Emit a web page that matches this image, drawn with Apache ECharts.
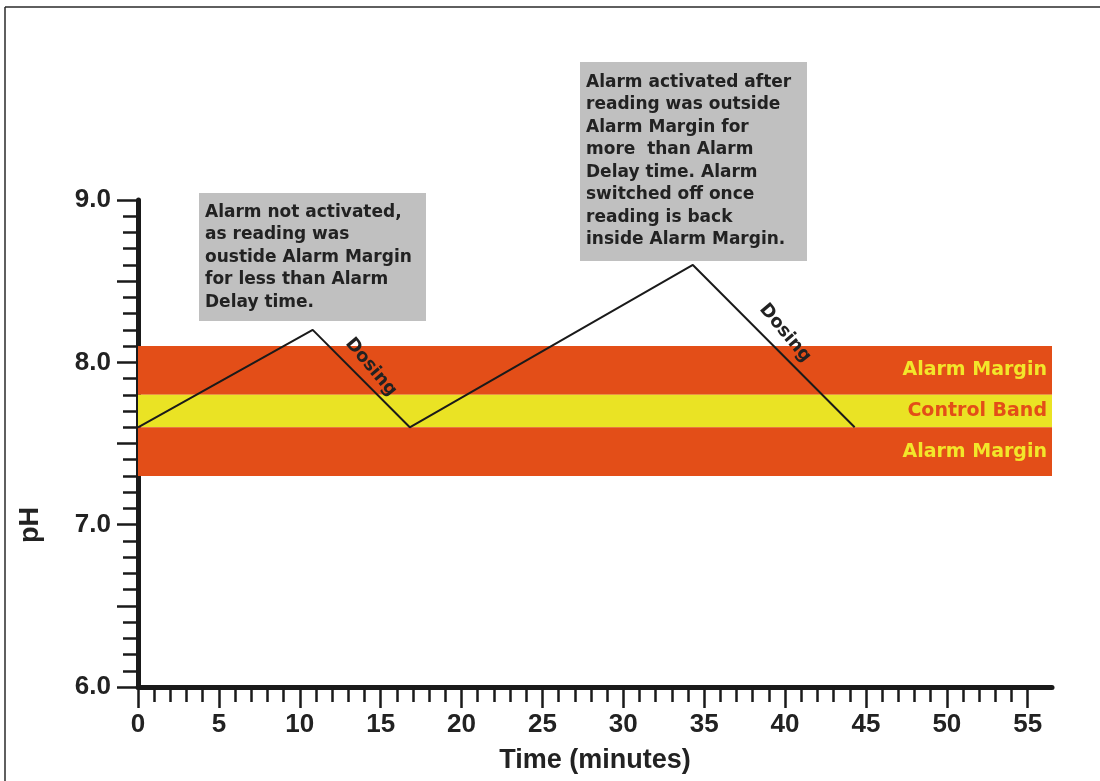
<!DOCTYPE html>
<html>
<head>
<meta charset="utf-8">
<script src="https://cdn.jsdelivr.net/npm/echarts@6/dist/echarts.min.js"></script>
<style>
  html, body { margin: 0; padding: 0; background: #fff; }
  #chart { width: 1100px; height: 781px; }
</style>
</head>
<body>
<div id="chart"></div>
<script>
// pH reading over time
const timeMin = [0, 10.8, 16.8, 34.3, 44.3];
const phReading = [7.6, 8.2, 7.6, 8.6, 7.6];

// bands
const bandNames = ['Alarm Margin', 'Control Band', 'Alarm Margin'];
const bandLow = [7.8, 7.6, 7.3];
const bandHigh = [8.1, 7.8, 7.6];

// ticks
const xMajorTicks = [0, 5, 10, 15, 20, 25, 30, 35, 40, 45, 50, 55];
const xMinorTicks = [0, 1, 2, 3, 4, 5, 6, 7, 8, 9, 10, 11, 12, 13, 14, 15, 16, 17, 18, 19,
  20, 21, 22, 23, 24, 25, 26, 27, 28, 29, 30, 31, 32, 33, 34, 35, 36, 37, 38, 39,
  40, 41, 42, 43, 44, 45, 46, 47, 48, 49, 50, 51, 52, 53, 54, 55];
const yLabelTicks = [6, 7, 8, 9];
const yMajorTicks = [6, 6.5, 7, 7.5, 8, 8.5, 9];
const yMinorTicks = [6.1, 6.2, 6.3, 6.4, 6.6, 6.7, 6.8, 6.9, 7.1, 7.2, 7.3, 7.4,
  7.6, 7.7, 7.8, 7.9, 8.1, 8.2, 8.3, 8.4, 8.6, 8.7, 8.8, 8.9];

// "Dosing" labels placed along the falling segments
const dosingLabels = [
  { name: 'Dosing', x: 14.4, y: 7.97 },
  { name: 'Dosing', x: 40.0, y: 8.18 }
];

const note1 = ['Alarm not activated,', 'as reading was', 'oustide Alarm Margin',
  'for less than Alarm', 'Delay time.'];
const note2 = ['Alarm activated after', 'reading was outside', 'Alarm Margin for',
  'more  than Alarm', 'Delay time. Alarm', 'switched off once', 'reading is back',
  'inside Alarm Margin.'];

const FONT = '"Liberation Sans", Arial, sans-serif';
const WIDE = '"DejaVu Sans", sans-serif';
const bandColors = ['#e34e18', '#eae324', '#e34e18'];
const bandTextColors = ['#f2e62a', '#e34e18', '#f2e62a'];

const chart = echarts.init(document.getElementById('chart'));

const xMin = 0, xMax = 56.5, yMin = 6, yMax = 9;

chart.setOption({
  animation: false,
  grid: { left: 138, right: 48, top: 200, bottom: 94, outerBoundsMode: 'none', containLabel: false },
  xAxis: [
    {
      type: 'value', min: xMin, max: xMax, position: 'bottom',
      name: 'Time (minutes)', nameLocation: 'middle', nameGap: 60,
      nameTextStyle: { fontFamily: FONT, fontWeight: 'bold', fontSize: 27, color: '#222' },
      axisLine: { show: true, onZero: false, lineStyle: { color: '#1a1a1a', width: 5 } },
      axisTick: { show: true, customValues: xMajorTicks, length: 21, lineStyle: { color: '#1a1a1a', width: 2.5 } },
      axisLabel: { customValues: xMajorTicks, margin: 25, fontFamily: FONT, fontWeight: 'bold', fontSize: 26, color: '#222' },
      splitLine: { show: false }
    },
    {
      type: 'value', min: xMin, max: xMax, position: 'bottom', offset: 0,
      axisLine: { show: false },
      axisTick: { show: true, customValues: xMinorTicks, length: 15, lineStyle: { color: '#1a1a1a', width: 2.5 } },
      axisLabel: { show: false },
      splitLine: { show: false }
    }
  ],
  yAxis: [
    {
      type: 'value', min: yMin, max: yMax, position: 'left',
      axisLine: { show: true, onZero: false, lineStyle: { color: '#1a1a1a', width: 5 } },
      axisTick: { show: true, customValues: yMajorTicks, length: 21, lineStyle: { color: '#1a1a1a', width: 2.5 } },
      axisLabel: {
        customValues: yLabelTicks, margin: 27, fontFamily: FONT, fontWeight: 'bold', fontSize: 26, color: '#222',
        formatter: v => v.toFixed(1)
      },
      splitLine: { show: false }
    },
    {
      type: 'value', min: yMin, max: yMax, position: 'left', offset: 0,
      axisLine: { show: false },
      axisTick: { show: true, customValues: yMinorTicks, length: 15, lineStyle: { color: '#1a1a1a', width: 2.5 } },
      axisLabel: { show: false },
      splitLine: { show: false }
    }
  ],
  series: [
    {
      type: 'line',
      xAxisIndex: 0, yAxisIndex: 0,
      data: timeMin.map((t, i) => [t, phReading[i]]),
      showSymbol: false,
      symbol: 'none',
      lineStyle: { color: '#1a1a1a', width: 2 },
      z: 5,
      markArea: {
        silent: true,
        data: bandNames.map((n, i) => [
          {
            name: n, yAxis: bandHigh[i],
            itemStyle: { color: bandColors[i], opacity: 1 },
            label: {
              show: true, position: 'insideRight', distance: 5,
              color: bandTextColors[i], fontFamily: WIDE, fontWeight: 'bold', fontSize: 19
            }
          },
          { yAxis: bandLow[i] }
        ])
      },
      markPoint: {
        silent: true,
        symbol: 'rect',
        symbolSize: 1,
        itemStyle: { color: 'rgba(0,0,0,0)' },
        data: dosingLabels.map(d => ({
          name: d.name, coord: [d.x, d.y],
          label: {
            show: true, formatter: d.name, position: 'inside', rotate: -50,
            color: '#222', fontFamily: WIDE, fontWeight: 'bold', fontSize: 18
          }
        }))
      }
    }
  ],
  graphic: [
    // frame
    { type: 'line', shape: { x1: 5, y1: 7, x2: 1100, y2: 7 }, style: { stroke: '#2a2a2a', lineWidth: 1.5 } },
    { type: 'line', shape: { x1: 5, y1: 7, x2: 5, y2: 781 }, style: { stroke: '#2a2a2a', lineWidth: 1.5 } },
    // y axis title
    {
      type: 'text', x: 31, y: 525, rotation: Math.PI / 2,
      style: { text: 'pH', fontFamily: FONT, fontWeight: 'bold', fontSize: 27, fill: '#222', align: 'center', verticalAlign: 'middle' }
    },
    // callout 1
    { type: 'rect', shape: { x: 199, y: 193, width: 227, height: 128 }, style: { fill: '#c0c0c0' } },
    {
      type: 'text', x: 205, y: 201,
      style: { text: note1.join('\n'), fontFamily: WIDE, fontWeight: 'bold', fontSize: 17, lineHeight: 22.5, fill: '#222' }
    },
    // callout 2
    { type: 'rect', shape: { x: 580, y: 62, width: 227, height: 199 }, style: { fill: '#c0c0c0' } },
    {
      type: 'text', x: 586, y: 71,
      style: { text: note2.join('\n'), fontFamily: WIDE, fontWeight: 'bold', fontSize: 17, lineHeight: 22.5, fill: '#222' }
    }
  ]
});
</script>
</body>
</html>
